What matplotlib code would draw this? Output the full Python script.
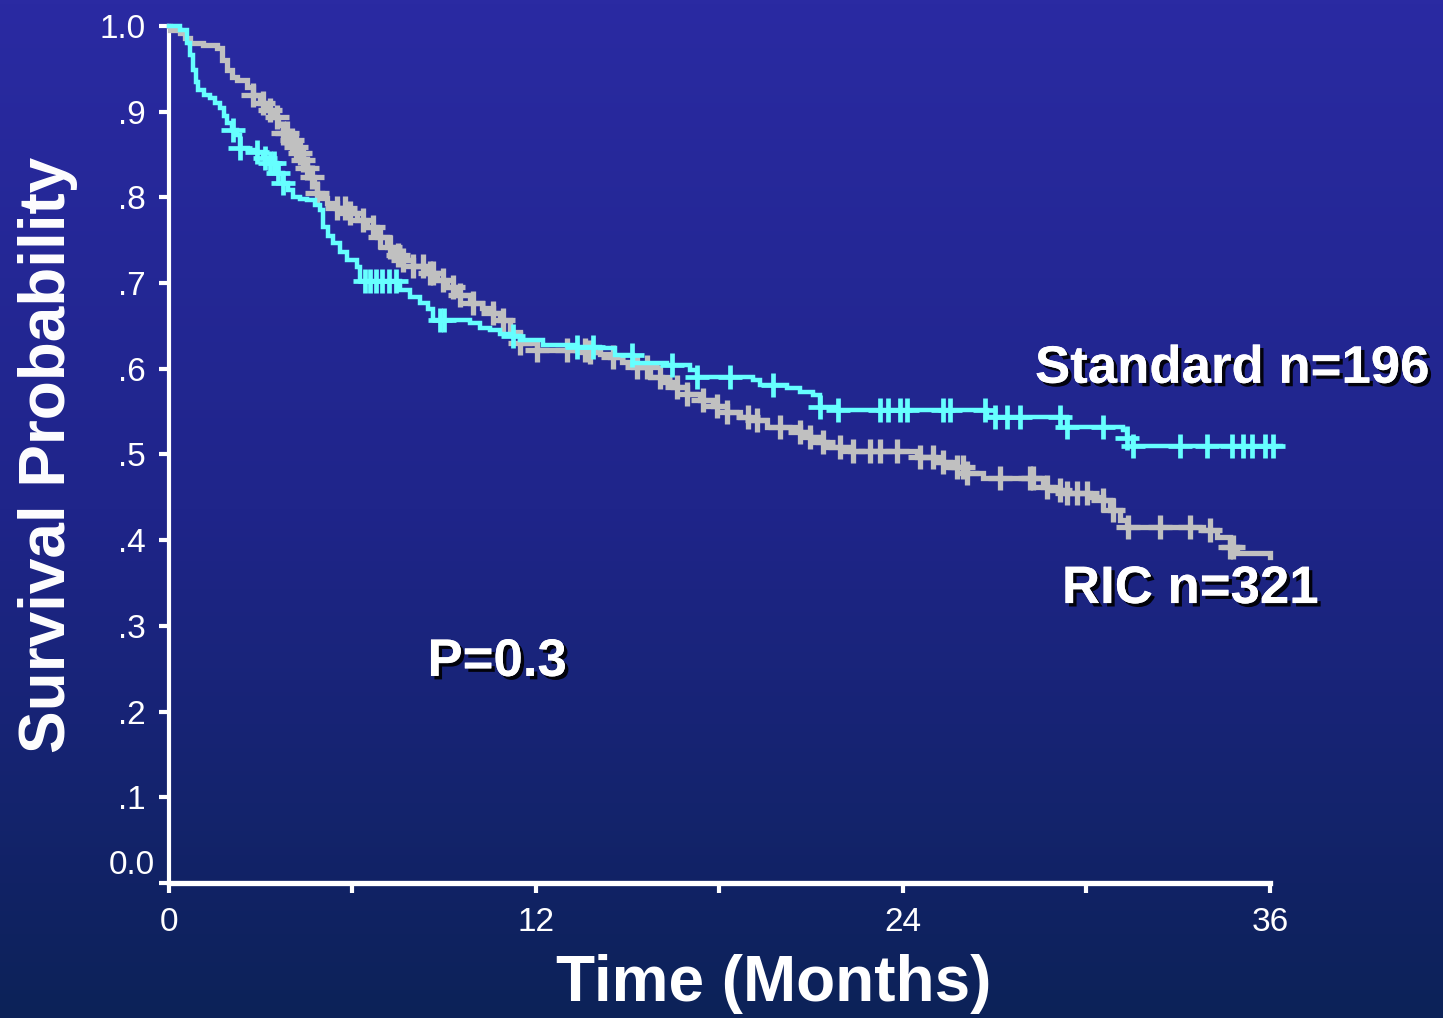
import numpy as np
import matplotlib
matplotlib.use("Agg")
import matplotlib.pyplot as plt
import matplotlib.patheffects as pe
from matplotlib.colors import LinearSegmentedColormap

plt.rcParams['font.family'] = ['Liberation Sans', 'DejaVu Sans']

# Standard arm (n=196): step times (months) and survival after each step
std_t = [0, 0.36, 0.59, 0.69, 0.78, 0.88, 0.95, 1.14, 1.34, 1.50, 1.67, 1.80, 1.90,
         2.06, 2.22, 2.32, 2.58, 2.88, 3.07, 3.30, 3.53, 3.73, 3.89, 4.05, 4.28, 4.51,
         4.77, 4.94, 5.04, 5.20, 5.36, 5.59, 5.82, 6.15, 6.25, 7.55, 7.88, 8.21, 8.47,
         8.63, 9.84, 10.17, 10.50, 10.82, 11.25, 11.48, 12.23, 13.34, 14.09, 14.58,
         15.17, 16.29, 17.04, 17.27, 19.10, 19.33, 20.21, 20.63, 21.06, 21.29, 21.84,
         26.75, 29.37, 31.20, 31.33, 31.52, 36.35]
std_s = [1.000, 0.995, 0.980, 0.966, 0.949, 0.935, 0.925, 0.920, 0.916, 0.910, 0.904,
         0.895, 0.887, 0.879, 0.873, 0.858, 0.855, 0.853, 0.846, 0.840, 0.828, 0.817,
         0.809, 0.800, 0.798, 0.797, 0.791, 0.785, 0.765, 0.755, 0.747, 0.736, 0.727,
         0.719, 0.702, 0.692, 0.684, 0.677, 0.670, 0.657, 0.653, 0.648, 0.645, 0.641,
         0.638, 0.634, 0.628, 0.625, 0.624, 0.616, 0.607, 0.604, 0.599, 0.590, 0.587,
         0.581, 0.578, 0.573, 0.569, 0.555, 0.552, 0.544, 0.532, 0.529, 0.519, 0.510,
         0.510]
std_cens = [2.09, 2.32, 2.88, 3.14, 3.30, 3.43, 3.56, 3.73, 6.41, 6.57, 6.77, 6.97,
            7.19, 7.42, 8.86, 8.99, 11.25, 13.34, 13.87, 15.14, 16.45, 17.27, 18.35,
            19.75, 21.29, 21.88, 23.25, 23.51, 23.90, 24.13, 25.31, 25.54, 26.68,
            27.01, 27.40, 27.83, 29.14, 29.37, 30.54, 31.33, 31.52, 33.06, 33.94,
            34.76, 35.12, 35.42, 35.84, 36.10]

# RIC arm (n=321)
ric_t = [0, 0.03, 0.36, 0.52, 0.69, 1.11, 1.57, 1.73, 1.90, 2.06, 2.22, 2.55, 2.75,
         2.98, 3.20, 3.40, 3.56, 3.73, 3.89, 4.05, 4.22, 4.38, 4.51, 4.61, 4.74, 4.84,
         5.00, 5.17, 5.49, 5.82, 6.15, 6.47, 6.80, 7.13, 7.33, 7.55, 7.98, 8.44, 8.76,
         9.09, 9.45, 9.84, 10.24, 10.60, 10.82, 11.15, 11.48, 12.03, 13.67, 14.09,
         14.42, 14.81, 15.17, 15.73, 16.12, 16.48, 16.94, 17.36, 17.79, 18.25, 18.67,
         19.00, 19.56, 20.63, 20.96, 21.22, 21.52, 22.27, 24.46, 25.05, 25.54, 26.10,
         26.62, 28.58, 28.91, 29.23, 30.12, 30.54, 30.77, 31.10, 31.33, 33.81, 34.27,
         34.70, 34.92, 36.00]
ric_s = [1.000, 0.995, 0.992, 0.986, 0.980, 0.978, 0.974, 0.960, 0.949, 0.940, 0.937,
         0.929, 0.919, 0.910, 0.902, 0.894, 0.885, 0.875, 0.867, 0.859, 0.852, 0.844,
         0.834, 0.824, 0.814, 0.805, 0.799, 0.793, 0.788, 0.782, 0.774, 0.765, 0.754,
         0.742, 0.733, 0.727, 0.720, 0.712, 0.704, 0.695, 0.686, 0.677, 0.671, 0.665,
         0.657, 0.643, 0.630, 0.622, 0.620, 0.617, 0.614, 0.608, 0.602, 0.590, 0.585,
         0.579, 0.571, 0.564, 0.557, 0.550, 0.544, 0.540, 0.532, 0.526, 0.520, 0.515,
         0.509, 0.504, 0.497, 0.491, 0.485, 0.478, 0.473, 0.462, 0.459, 0.455, 0.450,
         0.447, 0.435, 0.424, 0.415, 0.412, 0.404, 0.392, 0.385, 0.380]
ric_cens = [2.75, 3.07, 3.30, 3.53, 3.73, 3.86, 4.02, 4.15, 4.28, 4.38, 4.51, 4.68,
            4.84, 5.49, 5.76, 5.92, 6.34, 6.67, 6.90, 7.23, 7.49, 7.65, 7.98, 8.31,
            8.53, 8.63, 8.96, 9.29, 9.52, 9.94, 10.60, 10.92, 11.48, 12.03, 13.02,
            13.60, 13.77, 14.52, 15.30, 15.63, 16.06, 16.61, 16.94, 17.46, 17.92,
            18.25, 18.93, 19.23, 19.98, 20.63, 20.96, 21.39, 21.94, 22.37, 22.92,
            23.25, 23.81, 24.56, 24.98, 25.31, 25.77, 25.96, 26.10, 27.17, 28.16,
            28.25, 28.71, 29.14, 29.37, 29.69, 30.02, 30.54, 30.87, 31.36, 32.41,
            33.39, 34.04, 34.70, 34.79]

y_ticks = [0, .1, .2, .3, .4, .5, .6, .7, .8, .9, 1.0]
y_labels = ['', '.1', '.2', '.3', '.4', '.5', '.6', '.7', '.8', '.9', '1.0']
x_ticks = [0, 6, 12, 18, 24, 30, 36]
x_labels = ['0', '', '12', '', '24', '', '36']

cyan = '#66ffff'
gray = '#c0c0c0'


def surv_at(t, s, x):
    idx = np.searchsorted(t, x, side='right') - 1
    return np.asarray(s)[idx]


fig = plt.figure(figsize=(14.43, 10.18), dpi=100)

# gradient background
bg = fig.add_axes([0, 0, 1, 1], zorder=-10)
cmap = LinearSegmentedColormap.from_list('bg', ['#2a2aa2', '#1f258a', '#0c2258'])
bg.imshow(np.linspace(0, 1, 256).reshape(-1, 1), aspect='auto', cmap=cmap,
          extent=[0, 1, 0, 1])
bg.set_axis_off()

ax = fig.add_axes([0.1171, 0.1326, 0.7630, 0.8419])
ax.patch.set_alpha(0)

ax.plot(ric_t, ric_s, drawstyle='steps-post', color=gray, lw=3.8,
        solid_joinstyle='miter', clip_on=False, zorder=3)
ax.plot(ric_cens, surv_at(ric_t, ric_s, ric_cens), ls='none', marker='+',
        ms=17, mew=3.8, color=gray, clip_on=False, zorder=3)
ax.plot(std_t, std_s, drawstyle='steps-post', color=cyan, lw=3.2,
        solid_joinstyle='miter', clip_on=False, zorder=4)
ax.plot(std_cens, surv_at(std_t, std_s, std_cens), ls='none', marker='+',
        ms=17, mew=3.4, color=cyan, clip_on=False, zorder=4)

ax.set_xlim(0, 36)
ax.set_ylim(0, 1)
for side in ['top', 'right']:
    ax.spines[side].set_visible(False)
ax.spines['left'].set_color('white')
ax.spines['left'].set_linewidth(3.0)
ax.spines['bottom'].set_color('white')
ax.spines['bottom'].set_linewidth(3.8)

ax.set_yticks(y_ticks)
ax.set_yticklabels(y_labels)
ax.set_xticks(x_ticks)
ax.set_xticklabels(x_labels)
ax.tick_params(axis='both', colors='white', labelcolor='white', labelsize=24,
               width=3, length=7, direction='out')
ax.tick_params(axis='y', pad=10)
ax.tick_params(axis='x', pad=10)
# the 0.0 label sits a little above its tick
ax.text(-0.45, 0.02, '0.0', color='white', fontsize=24, ha='right', va='center',
        clip_on=False)

shadow = [pe.withSimplePatchShadow(offset=(2.5, -2.5), shadow_rgbFace='black',
                                   alpha=0.9), pe.Normal()]

fig.text(0.536, 0.033, 'Time (Months)', color='white', fontsize=46,
         fontweight='bold', ha='center', va='center')
fig.text(0.033, 0.553, 'Survival Probability', color='white', fontsize=46,
         fontweight='bold', ha='center', va='center', rotation=90)

ax.text(34.76, 0.6, 'Standard n=196', color='white', fontsize=38,
        fontweight='bold', ha='center', va='center', path_effects=shadow,
        clip_on=False)
ax.text(33.39, 0.343, 'RIC n=321', color='white', fontsize=38,
        fontweight='bold', ha='center', va='center', path_effects=shadow,
        clip_on=False)
ax.text(10.73, 0.258, 'P=0.3', color='white', fontsize=38,
        fontweight='bold', ha='center', va='center', path_effects=shadow)

fig.savefig('out.png', dpi=100)
